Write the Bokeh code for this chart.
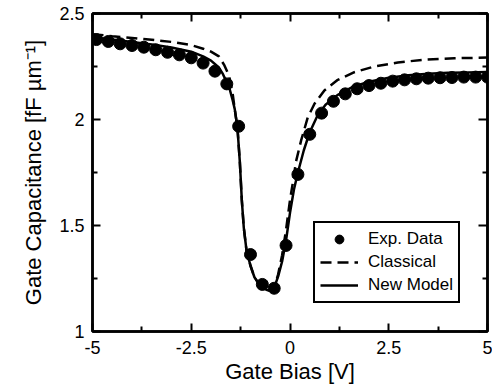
from bokeh.plotting import figure
from bokeh.models import (FixedTicker, LinearAxis, Legend, LegendItem, Range1d)
from bokeh.embed import file_html
from bokeh.resources import INLINE

# Experimental data (gate bias in V, capacitance in fF/um)
exp_v = [-4.9, -4.6, -4.3, -4.0, -3.7, -3.4, -3.1, -2.8, -2.5, -2.2, -1.9, -1.6,
         -1.3, -1.0, -0.7, -0.4, -0.1, 0.2, 0.5, 0.8, 1.1, 1.4, 1.7, 2.0, 2.3,
         2.6, 2.9, 3.2, 3.5, 3.8, 4.1, 4.4, 4.7, 5.0]
exp_c = [2.377, 2.368, 2.357, 2.349, 2.341, 2.329, 2.317, 2.305, 2.291, 2.266,
         2.228, 2.168, 1.968, 1.363, 1.222, 1.204, 1.406, 1.741, 1.930, 2.030,
         2.086, 2.121, 2.145, 2.160, 2.171, 2.181, 2.187, 2.192, 2.195, 2.197,
         2.198, 2.200, 2.200, 2.200]

# New model (solid)
new_v = [-5.0, -4.5, -4.0, -3.5, -3.0, -2.5, -2.2, -2.0, -1.8, -1.7, -1.6, -1.54,
         -1.45, -1.40, -1.33, -1.27, -1.22, -1.17, -1.10, -1.0, -0.9, -0.8, -0.7,
         -0.6, -0.52, -0.45, -0.4, -0.3, -0.2, -0.1, 0.0, 0.1, 0.2, 0.35, 0.5,
         0.7, 0.9, 1.2, 1.6, 2.0, 2.5, 3.0, 3.5, 4.0, 4.5, 5.0]
new_c = [2.388, 2.377, 2.366, 2.354, 2.340, 2.320, 2.298, 2.278, 2.245, 2.215,
         2.175, 2.152, 2.090, 2.050, 1.960, 1.800, 1.620, 1.490, 1.380, 1.310,
         1.256, 1.228, 1.209, 1.197, 1.193, 1.198, 1.207, 1.260, 1.330, 1.430,
         1.560, 1.670, 1.750, 1.855, 1.940, 2.020, 2.070, 2.115, 2.155, 2.178,
         2.197, 2.209, 2.216, 2.220, 2.222, 2.224]

# Classical model (dashed)
cls_v = [-5.0, -4.5, -4.0, -3.5, -3.0, -2.5, -2.2, -2.0, -1.8, -1.66, -1.54,
         -1.45, -1.40, -1.33, -1.27, -1.22, -1.17, -1.10, -1.0, -0.9, -0.8, -0.7,
         -0.6, -0.52, -0.45, -0.4, -0.3, -0.2, -0.1, 0.0, 0.07, 0.15, 0.28, 0.45,
         0.62, 0.87, 1.21, 1.63, 2.13, 2.73, 3.4, 4.16, 5.0]
cls_c = [2.402, 2.393, 2.385, 2.376, 2.366, 2.351, 2.334, 2.320, 2.298, 2.255,
         2.205, 2.120, 2.050, 1.960, 1.800, 1.620, 1.490, 1.380, 1.310, 1.256,
         1.228, 1.209, 1.197, 1.193, 1.198, 1.207, 1.270, 1.360, 1.480, 1.620,
         1.700, 1.800, 1.900, 2.010, 2.074, 2.137, 2.187, 2.223, 2.250, 2.269,
         2.282, 2.289, 2.292]

x_ticks = [-5, -2.5, 0, 2.5, 5]
x_minor = [-3.75, -1.25, 1.25, 3.75]
x_labels = {-5: "-5", -2.5: "-2.5", 0: "0", 2.5: "2.5", 5: "5"}
y_ticks = [1, 1.5, 2, 2.5]
y_minor = [1.25, 1.75, 2.25]
y_labels = {1: "1", 1.5: "1.5", 2: "2", 2.5: "2.5"}

FONT = "Liberation Sans"

p = figure(width=492, height=386, output_backend="svg", toolbar_location=None,
           x_range=Range1d(-5, 5), y_range=Range1d(1, 2.5),
           min_border_left=92, min_border_right=5, min_border_top=13,
           min_border_bottom=55, x_axis_location=None, y_axis_location=None)
p.background_fill_color = "white"
p.border_fill_color = "white"
p.grid.visible = False
p.outline_line_color = "black"
p.outline_line_width = 2.5


def style_axis(ax, ticks, minor, labels, show_labels, tick_len):
    ax.ticker = FixedTicker(ticks=ticks, minor_ticks=minor)
    ax.axis_line_color = "black"
    ax.axis_line_width = 2.5
    ax.major_tick_line_width = 2
    ax.minor_tick_line_width = 2
    ax.major_tick_in = tick_len
    ax.major_tick_out = 0
    ax.minor_tick_in = 5
    ax.minor_tick_out = 0
    ax.major_label_text_font = FONT
    ax.major_label_text_color = "black"
    ax.axis_label_text_font = FONT
    ax.axis_label_text_font_style = "normal"
    ax.axis_label_text_color = "black"
    if show_labels:
        ax.major_label_overrides = labels
    else:
        ax.major_label_overrides = {k: "" for k in labels}
        ax.major_label_text_font_size = "1px"
        ax.major_label_standoff = 0


xb = LinearAxis(axis_label="Gate Bias [V]")
style_axis(xb, x_ticks, x_minor, x_labels, True, 8)
xb.major_label_text_font_size = "18px"
xb.major_label_standoff = 9
xb.axis_label_text_font_size = "22px"
xb.axis_label_standoff = 2
p.add_layout(xb, "below")

yl = LinearAxis(axis_label="Gate Capacitance [fF µm⁻¹]")
style_axis(yl, y_ticks, y_minor, y_labels, True, 8)
yl.major_label_text_font_size = "18px"
yl.major_label_standoff = 8
yl.axis_label_text_font_size = "22px"
yl.axis_label_standoff = 10
p.add_layout(yl, "left")

xt = LinearAxis()
style_axis(xt, x_ticks, x_minor, x_labels, False, 8)
p.add_layout(xt, "above")

yr = LinearAxis()
style_axis(yr, y_ticks, y_minor, y_labels, False, 9)
p.add_layout(yr, "right")

r_cls = p.line(cls_v, cls_c, line_color="black", line_width=2.5, line_dash="11 6")
r_new = p.line(new_v, new_c, line_color="black", line_width=2.5)
r_exp = p.scatter(exp_v, exp_c, marker="circle", size=12, fill_color="black",
                  line_color="black")

legend = Legend(items=[LegendItem(label="Exp. Data", renderers=[r_exp]),
                       LegendItem(label="Classical", renderers=[r_cls]),
                       LegendItem(label="New Model", renderers=[r_new])],
                location=(221, 28))
legend.label_text_font = FONT
legend.label_text_font_size = "17px"
legend.label_text_color = "black"
legend.glyph_width = 38
legend.glyph_height = 22
legend.label_height = 22
legend.label_standoff = 10
legend.spacing = 1
legend.padding = 5
legend.margin = 0
legend.border_line_color = "black"
legend.border_line_alpha = 1
legend.border_line_width = 2
legend.background_fill_alpha = 1
p.add_layout(legend, "center")

open("out.html", "w").write(file_html(p, INLINE))
